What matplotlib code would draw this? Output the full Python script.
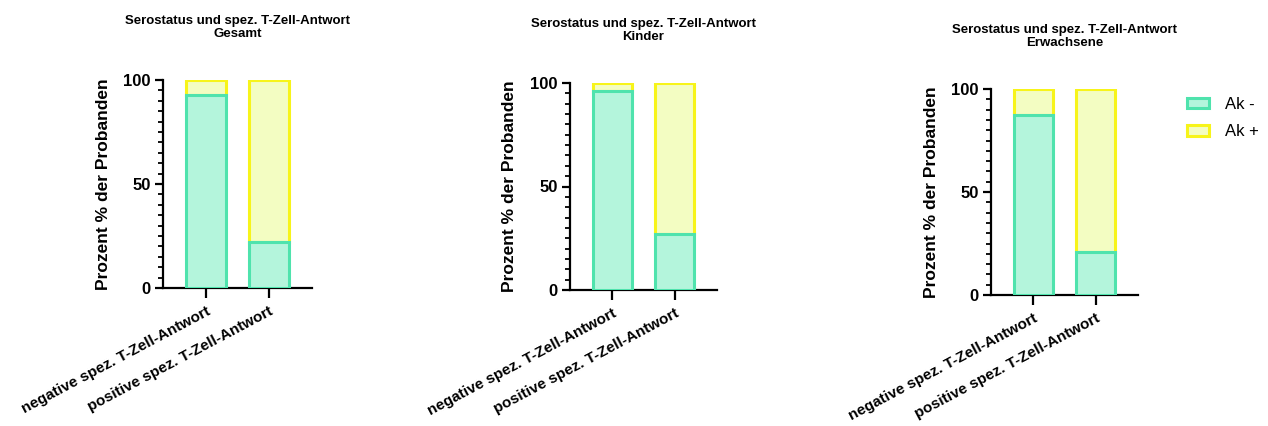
import matplotlib
matplotlib.use("Agg")
import matplotlib.pyplot as plt
from matplotlib.patches import Patch
from matplotlib.ticker import MultipleLocator

plt.rcParams['font.family'] = ['Liberation Sans', 'DejaVu Sans']

categories = ["negative spez. T-Zell-Antwort", "positive spez. T-Zell-Antwort"]
groups = ["Gesamt", "Kinder", "Erwachsene"]
ak_neg = {
    "Gesamt": [93, 22],
    "Kinder": [96, 27],
    "Erwachsene": [87.5, 21],
}
ak_pos = {g: [100 - v for v in ak_neg[g]] for g in groups}

series_labels = ["Ak -", "Ak +"]
fill_neg, edge_neg = "#b4f5dc", "#4fe3ad"
fill_pos, edge_pos = "#f3fdc2", "#f7f41a"

W, H = 1268, 426
fig = plt.figure(figsize=(W / 100, H / 100), dpi=100)

# axes boxes in pixels: left, right, top (y=100 line), bottom (y=0 line)
boxes = [
    (163, 312, 80, 288),
    (570, 717, 83, 290),
    (991, 1138, 89, 295),
]

for g, (l, r, t, b) in zip(groups, boxes):
    ax = fig.add_axes([l / W, (H - b) / H, (r - l) / W, (b - t) / H])
    x = list(range(len(categories)))
    ax.bar(x, ak_neg[g], width=0.62, color=fill_neg, edgecolor=edge_neg,
           linewidth=2.2, zorder=3)
    ax.bar(x, ak_pos[g], bottom=ak_neg[g], width=0.62, color=fill_pos,
           edgecolor=edge_pos, linewidth=2.2, zorder=2)
    ax.set_xlim(-0.68, 1.68)
    ax.set_ylim(0, 100)
    ax.spines['top'].set_visible(False)
    ax.spines['right'].set_visible(False)
    ax.spines['left'].set_linewidth(1.6)
    ax.spines['bottom'].set_linewidth(1.6)
    ax.yaxis.set_major_locator(MultipleLocator(50))
    ax.yaxis.set_minor_locator(MultipleLocator(5))
    ax.tick_params(axis='y', which='major', length=6, width=1.6, labelsize=12, pad=3)
    ax.tick_params(axis='y', which='minor', length=3.5, width=1.3)
    ax.tick_params(axis='x', which='major', length=7, width=1.6, labelsize=11, pad=5)
    for lab in ax.get_yticklabels():
        lab.set_fontweight('bold')
    ax.set_xticks(x)
    ax.set_xticklabels(categories, rotation=28, ha='right', rotation_mode='anchor',
                       fontweight='bold')
    ax.set_ylabel("Prozent % der Probanden", fontsize=12.5, fontweight='bold', labelpad=9)
    ax.set_title("Serostatus und spez. T-Zell-Antwort\n" + g, fontsize=9.5,
                 fontweight='bold', pad=31, linespacing=1.15)

handles = [
    Patch(facecolor=fill_neg, edgecolor=edge_neg, linewidth=2.2, label=series_labels[0]),
    Patch(facecolor=fill_pos, edgecolor=edge_pos, linewidth=2.2, label=series_labels[1]),
]
fig.legend(handles=handles, loc='upper left', bbox_to_anchor=(1172 / W, 1 - 82 / H),
           frameon=False, fontsize=12, handlelength=1.3, handleheight=0.6,
           labelspacing=0.75, handletextpad=1.0)

fig.savefig("out.png", dpi=100)
